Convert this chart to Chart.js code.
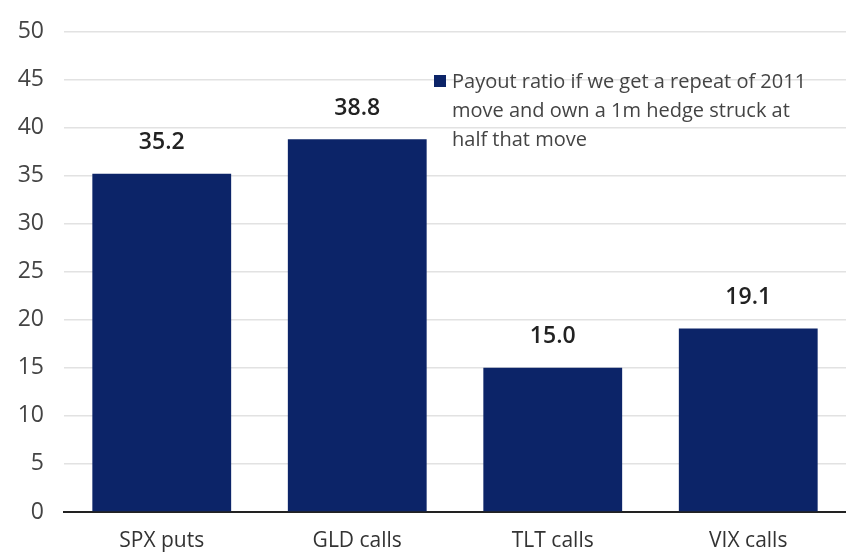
<!DOCTYPE html>
<html>
<head>
<meta charset="utf-8">
<script src="https://cdn.jsdelivr.net/npm/chart.js@4"></script>
<style>
  html, body { margin: 0; padding: 0; background: #fff; }
  #wrap { width: 846px; height: 556px; }
</style>
</head>
<body>
<div id="wrap"><canvas id="payoutChart" width="846" height="556"></canvas></div>
<script>
// data
const categories = ['SPX puts', 'GLD calls', 'TLT calls', 'VIX calls'];
const payoutRatio = [35.2, 38.8, 15.0, 19.1];
const yTicks = [0, 5, 10, 15, 20, 25, 30, 35, 40, 45, 50];
const seriesLabel = ['Payout ratio if we get a repeat of 2011', 'move and own a 1m hedge struck at', 'half that move'];

const barColor = '#0c2468';
const fontFamily = "'Liberation Sans Narrow', 'Open Sans', sans-serif";

// value labels above each bar
const valueLabels = {
    id: 'valueLabels',
    afterDatasetsDraw(chart) {
        const ctx = chart.ctx;
        const meta = chart.getDatasetMeta(0);
        ctx.save();
        ctx.font = "600 23px " + fontFamily;
        ctx.fillStyle = '#222';
        ctx.textAlign = 'center';
        ctx.textBaseline = 'middle';
        meta.data.forEach((bar, i) => {
            ctx.fillText(payoutRatio[i].toFixed(1), bar.x, bar.y - 31);
        });
        ctx.restore();
    }
};

// multi-line legend in the upper right
const boxLegend = {
    id: 'boxLegend',
    afterDraw(chart) {
        const ctx = chart.ctx;
        ctx.save();
        ctx.fillStyle = barColor;
        ctx.fillRect(434, 75, 12, 12);
        ctx.font = "20px " + fontFamily;
        ctx.fillStyle = '#444';
        ctx.textAlign = 'left';
        ctx.textBaseline = 'middle';
        seriesLabel.forEach((line, i) => {
            ctx.fillText(line, 452, 82 + i * 29);
        });
        ctx.restore();
    }
};

document.addEventListener("DOMContentLoaded", function () {
    const ctx = document.getElementById('payoutChart').getContext('2d');
    new Chart(ctx, {
        type: 'bar',
        data: {
            labels: categories,
            datasets: [{
                label: seriesLabel.join(' '),
                data: payoutRatio,
                backgroundColor: barColor,
                barPercentage: 0.71,
                categoryPercentage: 1
            }]
        },
        options: {
            responsive: false,
            animation: false,
            layout: { padding: { top: 14, right: 0, bottom: 0, left: 0 } },
            plugins: {
                legend: { display: false },
                tooltip: { enabled: false }
            },
            scales: {
                x: {
                    afterFit(axis) { axis.height = 44; },
                    grid: { display: false },
                    border: { display: true, color: '#222', width: 2 },
                    ticks: {
                        color: '#333',
                        padding: 8,
                        font: { family: fontFamily, size: 21 }
                    }
                },
                y: {
                    min: 0,
                    max: 50,
                    afterFit(axis) { axis.width = 64; },
                    afterBuildTicks(axis) { axis.ticks = yTicks.map(v => ({ value: v })); },
                    grid: { color: '#e2e2e2', lineWidth: 1.5, drawTicks: false },
                    border: { display: false },
                    ticks: {
                        color: '#444',
                        padding: 20,
                        font: { family: fontFamily, size: 23, lineHeight: 1 }
                    }
                }
            }
        },
        plugins: [valueLabels, boxLegend]
    });
});
</script>
</body>
</html>
